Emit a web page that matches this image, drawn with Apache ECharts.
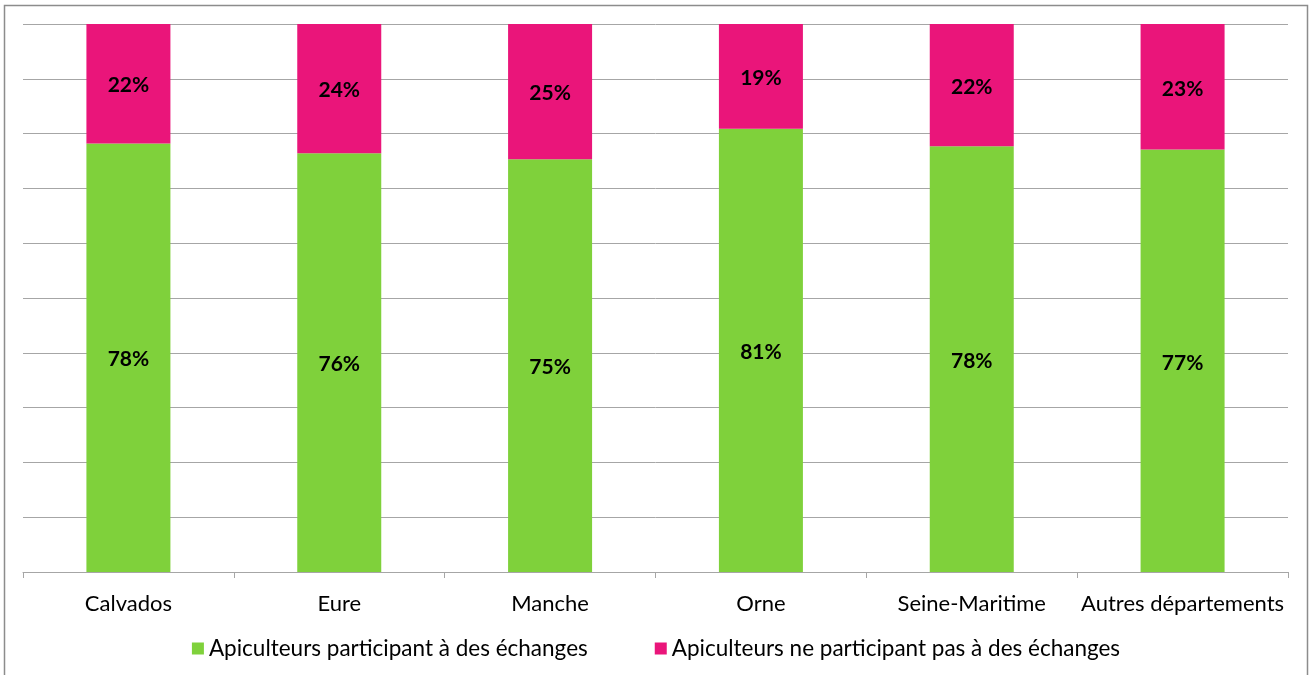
<!DOCTYPE html>
<html><head><meta charset="utf-8">
<script src="https://cdn.jsdelivr.net/npm/echarts@6/dist/echarts.min.js"></script>
<style>html,body{margin:0;padding:0;background:#fff}#c{width:1312px;height:675px}</style>
</head><body><div id="c"></div>
<script>
const categories = ['Calvados','Eure','Manche','Orne','Seine-Maritime','Autres départements'];
const participant = [78.2,76.4,75.3,80.9,77.7,77.1];
const nonParticipant = [21.8,23.6,24.7,19.1,22.3,22.9];
const seriesNames = ['Apiculteurs participant à des échanges','Apiculteurs ne participant pas à des échanges'];
const FONT = 'Lato';
const chart = echarts.init(document.getElementById('c'));
const lbl = {show:true,position:'inside',offset:[0,2],formatter:p=>Math.round(p.value)+'%',color:'#000',fontWeight:'bold',fontSize:21,fontFamily:FONT};
chart.setOption({
  animation:false,
  graphic:[{type:'rect',shape:{x:4.5,y:5.5,width:1303,height:680},style:{fill:'none',stroke:'#8c8c8c',lineWidth:1.5},silent:true}],
  grid:{left:23,right:24,top:24,bottom:103},
  legend:{bottom:10,left:'center',itemWidth:12,itemHeight:12,itemGap:67,itemTextGap:8,icon:'rect',textStyle:{fontFamily:FONT,fontSize:22.5,color:'#000'},data:seriesNames},
  xAxis:{type:'category',data:categories,axisLine:{lineStyle:{color:'#a6a6a6'}},axisTick:{show:true,length:6,lineStyle:{color:'#a6a6a6'}},axisLabel:{interval:0,fontFamily:FONT,fontSize:22,color:'#000',margin:21}},
  yAxis:{type:'value',min:0,max:100,interval:10,axisLabel:{show:false},axisLine:{show:false},axisTick:{show:false},splitLine:{lineStyle:{color:'#a6a6a6'}}},
  series:[
    {name:seriesNames[0],type:'bar',stack:'a',data:participant,barWidth:84,itemStyle:{color:'#7FD13B'},label:lbl},
    {name:seriesNames[1],type:'bar',stack:'a',data:nonParticipant,barWidth:84,itemStyle:{color:'#EA157A'},label:lbl}
  ]
});
</script></body></html>
